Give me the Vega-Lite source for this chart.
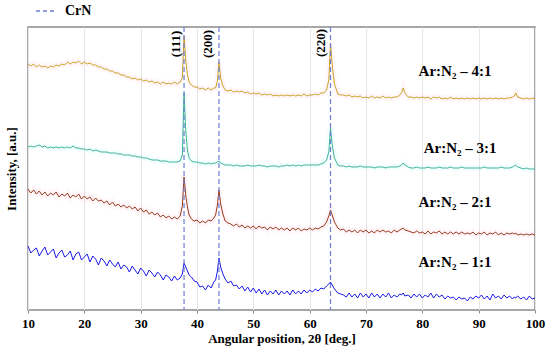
{
"$schema": "https://vega.github.io/schema/vega-lite/v6.json",
"width": 507, "height": 283,
"autosize": "none",
"padding": {"left": 28, "top": 27, "right": 15, "bottom": 43},
"config": {"view": {"stroke": "#8a8a8a", "strokeWidth": 1.5}, "font": "Liberation Serif"},
"datasets": {
"xrd": [
{"x":10,"g":246,"t":163,"r":121,"b":64},{"x":10.5,"g":244,"t":164,"r":117,"b":57},{"x":11,"g":246,"t":163,"r":120,"b":60},{"x":11.5,"g":243,"t":164,"r":116,"b":62},
{"x":12,"g":245,"t":165,"r":119,"b":54},{"x":12.5,"g":243,"t":163,"r":115,"b":59},{"x":13,"g":244,"t":164,"r":118,"b":63},{"x":13.5,"g":242,"t":162,"r":114,"b":55},
{"x":14,"g":244,"t":163,"r":117,"b":58},{"x":14.5,"g":243,"t":162,"r":115,"b":61},{"x":15,"g":245,"t":163,"r":118,"b":52},{"x":15.5,"g":244,"t":162,"r":113,"b":57},
{"x":16,"g":246,"t":163,"r":116,"b":60},{"x":16.5,"g":245,"t":162,"r":114,"b":53},{"x":17,"g":248,"t":163,"r":117,"b":55},{"x":17.5,"g":246,"t":162,"r":112,"b":59},
{"x":18,"g":248,"t":164,"r":115,"b":50},{"x":18.5,"g":247,"t":162,"r":113,"b":56},{"x":19,"g":249,"t":162,"r":116,"b":58},{"x":19.5,"g":246,"t":161,"r":111,"b":50},
{"x":20,"g":248,"t":161,"r":114,"b":53},{"x":20.5,"g":246,"t":160,"r":111,"b":56},{"x":21,"g":247,"t":161,"r":113,"b":48},{"x":21.5,"g":245,"t":159,"r":109,"b":54},
{"x":22,"g":245,"t":160,"r":112,"b":51},{"x":22.5,"g":243,"t":159,"r":109,"b":45},{"x":23,"g":243,"t":158,"r":110,"b":52},{"x":23.5,"g":241,"t":158,"r":107,"b":49},
{"x":24,"g":241,"t":158,"r":109,"b":44},{"x":24.5,"g":239,"t":157,"r":105,"b":50},{"x":25,"g":239,"t":157,"r":108,"b":46},{"x":25.5,"g":237,"t":157,"r":104,"b":43},
{"x":26,"g":237,"t":156,"r":106,"b":48},{"x":26.5,"g":235,"t":156,"r":103,"b":41},{"x":27,"g":235,"t":155,"r":105,"b":45},{"x":27.5,"g":233,"t":155,"r":102,"b":43},
{"x":28,"g":233,"t":155,"r":104,"b":38},{"x":28.5,"g":231,"t":154,"r":101,"b":44},{"x":29,"g":232,"t":154,"r":103,"b":40},{"x":29.5,"g":230,"t":153,"r":99,"b":36},
{"x":30,"g":231,"t":153,"r":102,"b":42},{"x":30.5,"g":229,"t":152,"r":98,"b":39},{"x":31,"g":230,"t":152,"r":100,"b":34},{"x":31.5,"g":228,"t":151,"r":96,"b":40},
{"x":32,"g":229,"t":150,"r":98,"b":37},{"x":32.5,"g":227,"t":150,"r":95,"b":33},{"x":33,"g":228,"t":150,"r":97,"b":38},{"x":33.5,"g":226,"t":149,"r":93,"b":35},
{"x":34,"g":228,"t":149,"r":95,"b":30},{"x":34.5,"g":226,"t":149,"r":92,"b":35},{"x":35,"g":227,"t":148,"r":94,"b":33},{"x":35.5,"g":226,"t":148,"r":91,"b":29},
{"x":36,"g":228,"t":148,"r":93,"b":34},{"x":36.5,"g":226,"t":148,"r":91,"b":30},{"x":37,"g":228,"t":149,"r":94,"b":32},{"x":37.4,"g":232,"t":155,"r":104,"b":36},
{"x":37.7,"g":274,"t":217,"r":133,"b":47},{"x":38.0,"g":250,"t":180,"r":115,"b":43},{"x":38.3,"g":235,"t":160,"r":103,"b":39},{"x":38.6,"g":228,"t":152,"r":95,"b":35},
{"x":39,"g":225,"t":149,"r":91,"b":33},{"x":39.5,"g":223,"t":148,"r":89,"b":29},{"x":40,"g":223,"t":148,"r":90,"b":28},{"x":40.5,"g":221,"t":147,"r":87,"b":23},
{"x":41,"g":222,"t":147,"r":89,"b":24},{"x":41.5,"g":220,"t":146,"r":87,"b":20},{"x":42,"g":222,"t":147,"r":90,"b":25},{"x":42.5,"g":220,"t":146,"r":89,"b":22},
{"x":43,"g":222,"t":147,"r":92,"b":28},{"x":43.3,"g":222,"t":147,"r":95,"b":30},{"x":43.6,"g":228,"t":148,"r":104,"b":38},{"x":43.9,"g":248,"t":149,"r":120,"b":52},
{"x":44.2,"g":232,"t":147,"r":106,"b":43},{"x":44.6,"g":224,"t":146,"r":96,"b":36},{"x":45,"g":220,"t":145,"r":89,"b":31},{"x":45.5,"g":219,"t":145,"r":87,"b":27},
{"x":46,"g":220,"t":145,"r":86,"b":29},{"x":46.5,"g":218,"t":144,"r":84,"b":24},{"x":47,"g":219,"t":145,"r":86,"b":25},{"x":47.5,"g":218,"t":144,"r":83,"b":21},
{"x":48,"g":219,"t":144,"r":85,"b":24},{"x":48.5,"g":217,"t":144,"r":82,"b":19},{"x":49,"g":218,"t":145,"r":84,"b":23},{"x":49.5,"g":216,"t":144,"r":82,"b":18},
{"x":50,"g":217,"t":144,"r":84,"b":22},{"x":50.5,"g":216,"t":144,"r":81,"b":17},{"x":51,"g":217,"t":145,"r":84,"b":21},{"x":51.5,"g":215,"t":144,"r":82,"b":16},
{"x":52,"g":216,"t":144,"r":83,"b":20},{"x":52.5,"g":215,"t":143,"r":80,"b":15},{"x":53,"g":216,"t":144,"r":83,"b":19},{"x":53.5,"g":214,"t":144,"r":81,"b":16},
{"x":54,"g":215,"t":144,"r":83,"b":20},{"x":54.5,"g":214,"t":143,"r":80,"b":15},{"x":55,"g":215,"t":144,"r":82,"b":19},{"x":55.5,"g":214,"t":144,"r":80,"b":16},
{"x":56,"g":215,"t":145,"r":82,"b":19},{"x":56.5,"g":214,"t":144,"r":79,"b":15},{"x":57,"g":215,"t":145,"r":82,"b":20},{"x":57.5,"g":214,"t":144,"r":80,"b":16},
{"x":58,"g":215,"t":145,"r":82,"b":19},{"x":58.5,"g":214,"t":144,"r":79,"b":16},{"x":59,"g":216,"t":145,"r":81,"b":20},{"x":59.5,"g":214,"t":145,"r":80,"b":17},
{"x":60,"g":215,"t":145,"r":82,"b":20},{"x":60.5,"g":215,"t":145,"r":80,"b":18},{"x":61,"g":216,"t":145,"r":82,"b":21},{"x":61.5,"g":215,"t":145,"r":81,"b":19},
{"x":62,"g":217,"t":146,"r":83,"b":22},{"x":62.5,"g":217,"t":147,"r":84,"b":21},{"x":63,"g":220,"t":150,"r":88,"b":24},{"x":63.4,"g":230,"t":158,"r":94,"b":26},
{"x":63.7,"g":267,"t":182,"r":100,"b":28},{"x":64.0,"g":245,"t":165,"r":95,"b":25},{"x":64.4,"g":226,"t":152,"r":88,"b":21},{"x":65,"g":216,"t":145,"r":82,"b":17},
{"x":65.5,"g":215,"t":144,"r":80,"b":16},{"x":66,"g":215,"t":144,"r":81,"b":15},{"x":66.5,"g":214,"t":143,"r":78,"b":13},{"x":67,"g":215,"t":144,"r":80,"b":17},
{"x":67.5,"g":213,"t":143,"r":78,"b":13},{"x":68,"g":214,"t":143,"r":80,"b":16},{"x":68.5,"g":213,"t":143,"r":77,"b":12},{"x":69,"g":214,"t":144,"r":80,"b":17},
{"x":69.5,"g":212,"t":143,"r":78,"b":13},{"x":70,"g":213,"t":143,"r":80,"b":16},{"x":70.5,"g":212,"t":143,"r":77,"b":12},{"x":71,"g":214,"t":143,"r":79,"b":17},
{"x":71.5,"g":212,"t":142,"r":77,"b":13},{"x":72,"g":213,"t":143,"r":80,"b":16},{"x":72.5,"g":212,"t":143,"r":78,"b":12},{"x":73,"g":214,"t":143,"r":80,"b":16},
{"x":73.5,"g":212,"t":142,"r":78,"b":13},{"x":74,"g":213,"t":143,"r":79,"b":17},{"x":74.5,"g":212,"t":143,"r":77,"b":12},{"x":75,"g":213,"t":143,"r":80,"b":15},
{"x":75.5,"g":213,"t":143,"r":78,"b":13},{"x":76,"g":215,"t":144,"r":80,"b":16},{"x":76.3,"g":217,"t":145,"r":81,"b":15},{"x":76.6,"g":222,"t":147,"r":82,"b":17},
{"x":76.9,"g":217,"t":145,"r":80,"b":14},{"x":77.5,"g":213,"t":143,"r":79,"b":15},{"x":78,"g":213,"t":142,"r":78,"b":12},{"x":78.5,"g":212,"t":142,"r":77,"b":16},
{"x":79,"g":213,"t":143,"r":79,"b":13},{"x":79.5,"g":212,"t":142,"r":77,"b":16},{"x":80,"g":213,"t":142,"r":78,"b":12},{"x":80.5,"g":212,"t":142,"r":76,"b":15},
{"x":81,"g":213,"t":143,"r":79,"b":13},{"x":81.5,"g":211,"t":142,"r":76,"b":17},{"x":82,"g":213,"t":142,"r":78,"b":12},{"x":82.5,"g":212,"t":142,"r":77,"b":16},
{"x":83,"g":213,"t":143,"r":79,"b":13},{"x":83.5,"g":211,"t":142,"r":76,"b":15},{"x":84,"g":212,"t":142,"r":78,"b":11},{"x":84.5,"g":211,"t":142,"r":76,"b":14},
{"x":85,"g":213,"t":143,"r":78,"b":12},{"x":85.5,"g":211,"t":142,"r":76,"b":13},{"x":86,"g":212,"t":142,"r":78,"b":10},{"x":86.5,"g":211,"t":142,"r":76,"b":13},
{"x":87,"g":212,"t":143,"r":78,"b":11},{"x":87.5,"g":211,"t":142,"r":76,"b":12},{"x":88,"g":212,"t":142,"r":77,"b":9},{"x":88.5,"g":211,"t":142,"r":76,"b":13},
{"x":89,"g":212,"t":142,"r":78,"b":11},{"x":89.5,"g":211,"t":142,"r":75,"b":14},{"x":90,"g":212,"t":142,"r":77,"b":12},{"x":90.5,"g":211,"t":142,"r":76,"b":15},
{"x":91,"g":212,"t":143,"r":78,"b":11},{"x":91.5,"g":211,"t":142,"r":75,"b":14},{"x":92,"g":212,"t":142,"r":77,"b":10},{"x":92.5,"g":211,"t":142,"r":76,"b":16},
{"x":93,"g":212,"t":142,"r":78,"b":12},{"x":93.5,"g":211,"t":142,"r":75,"b":14},{"x":94,"g":212,"t":143,"r":77,"b":11},{"x":94.5,"g":211,"t":142,"r":75,"b":15},
{"x":95,"g":212,"t":142,"r":77,"b":12},{"x":95.5,"g":212,"t":142,"r":76,"b":14},{"x":96,"g":213,"t":143,"r":77,"b":11},{"x":96.3,"g":214,"t":144,"r":76,"b":13},
{"x":96.6,"g":217,"t":145,"r":77,"b":12},{"x":96.9,"g":213,"t":143,"r":75,"b":14},{"x":97.5,"g":212,"t":142,"r":76,"b":11},{"x":98,"g":211,"t":141,"r":75,"b":13},
{"x":98.5,"g":212,"t":142,"r":76,"b":10},{"x":99,"g":211,"t":141,"r":75,"b":14},{"x":99.5,"g":212,"t":141,"r":76,"b":11},{"x":100,"g":211,"t":141,"r":75,"b":12}
],
"refs": [{"x":37.7,"k":"CrN"},{"x":43.9,"k":"CrN"},{"x":63.7,"k":"CrN"}],
"series": [
{"x":85.8,"y":239,"label":"Ar:N₂ – 4:1"},
{"x":86.7,"y":162,"label":"Ar:N₂ – 3:1"},
{"x":85.8,"y":108,"label":"Ar:N₂ – 2:1"},
{"x":85.8,"y":48,"label":"Ar:N₂ – 1:1"}
],
"peaks": [
{"x":36.3,"y":266,"label":"(111)"},
{"x":42.0,"y":266,"label":"(200)"},
{"x":62.0,"y":267,"label":"(220)"}
]
},
"layer": [
{
"data": {"name": "xrd"},
"transform": [{"fold": ["g","t","r"], "as": ["s","v"]}],
"mark": {"type": "line", "strokeWidth": 6, "opacity": 0.06},
"encoding": {
"x": {"field": "x", "type": "quantitative", "scale": {"domain": [10, 100], "nice": false}},
"y": {"field": "v", "type": "quantitative", "scale": {"domain": [0, 283], "nice": false}},
"color": {"field": "s", "type": "nominal", "scale": {"domain": ["g","t","r"], "range": ["#ff5fb0","#30f0f0","#ff5fb0"]}, "legend": null}
}
},
{
"data": {"name": "xrd"},
"transform": [{"fold": ["g","t","r","b"], "as": ["s","v"]}],
"mark": {"type": "line", "strokeWidth": 1},
"encoding": {
"x": {"field": "x", "type": "quantitative", "scale": {"domain": [10, 100], "nice": false},
"axis": {"title": "Angular position, 2θ [deg.]", "values": [10,20,30,40,50,60,70,80,90,100], "grid": true, "gridColor": "#e6e6e6", "domain": false,
"tickColor": "#8a8a8a", "tickSize": 3, "labelFont": "Liberation Serif", "labelFontWeight": "bold", "labelFontSize": 13, "labelColor": "#000", "labelPadding": 4,
"titleFont": "Liberation Serif", "titleFontWeight": "bold", "titleFontSize": 13, "titleColor": "#000", "titlePadding": 2, "labelFlush": false}},
"y": {"field": "v", "type": "quantitative", "scale": {"domain": [0, 283], "nice": false},
"axis": {"title": "Intensity, [a.u.]", "labels": false, "ticks": false, "grid": false, "domain": false,
"titleFont": "Liberation Serif", "titleFontWeight": "bold", "titleFontSize": 13, "titleColor": "#000", "titlePadding": 10}},
"color": {"field": "s", "type": "nominal", "scale": {"domain": ["g","t","r","b"], "range": ["#c9a226","#40b394","#983a1c","#1a1ae6"]}, "legend": null},
"detail": {"field": "s"}
}
},
{
"data": {"name": "refs"},
"mark": {"type": "rule", "strokeDash": [5,3], "strokeWidth": 1.2},
"encoding": {
"x": {"field": "x", "type": "quantitative"},
"stroke": {"field": "k", "type": "nominal", "scale": {"domain": ["CrN"], "range": ["#6d7fd4"]},
"legend": {"title": null, "orient": "none", "legendX": 7, "legendY": -27, "symbolType": "stroke", "symbolDash": [4,3], "symbolSize": 400, "symbolStrokeWidth": 1.5,
"labelFont": "Liberation Serif", "labelFontWeight": "bold", "labelFontSize": 14, "labelColor": "#000", "labelOffset": 8}}
}
},
{
"data": {"name": "series"},
"mark": {"type": "text", "font": "Liberation Serif", "fontWeight": "bold", "fontSize": 15, "color": "#000", "align": "center", "baseline": "middle"},
"encoding": {"x": {"field": "x", "type": "quantitative"}, "y": {"field": "y", "type": "quantitative"}, "text": {"field": "label"}}
},
{
"data": {"name": "peaks"},
"mark": {"type": "text", "font": "Liberation Serif", "fontWeight": "bold", "fontSize": 13, "color": "#000", "align": "center", "baseline": "middle", "angle": 270},
"encoding": {"x": {"field": "x", "type": "quantitative"}, "y": {"field": "y", "type": "quantitative"}, "text": {"field": "label"}}
}
],
"resolve": {"scale": {"color": "independent", "stroke": "independent"}}
}
